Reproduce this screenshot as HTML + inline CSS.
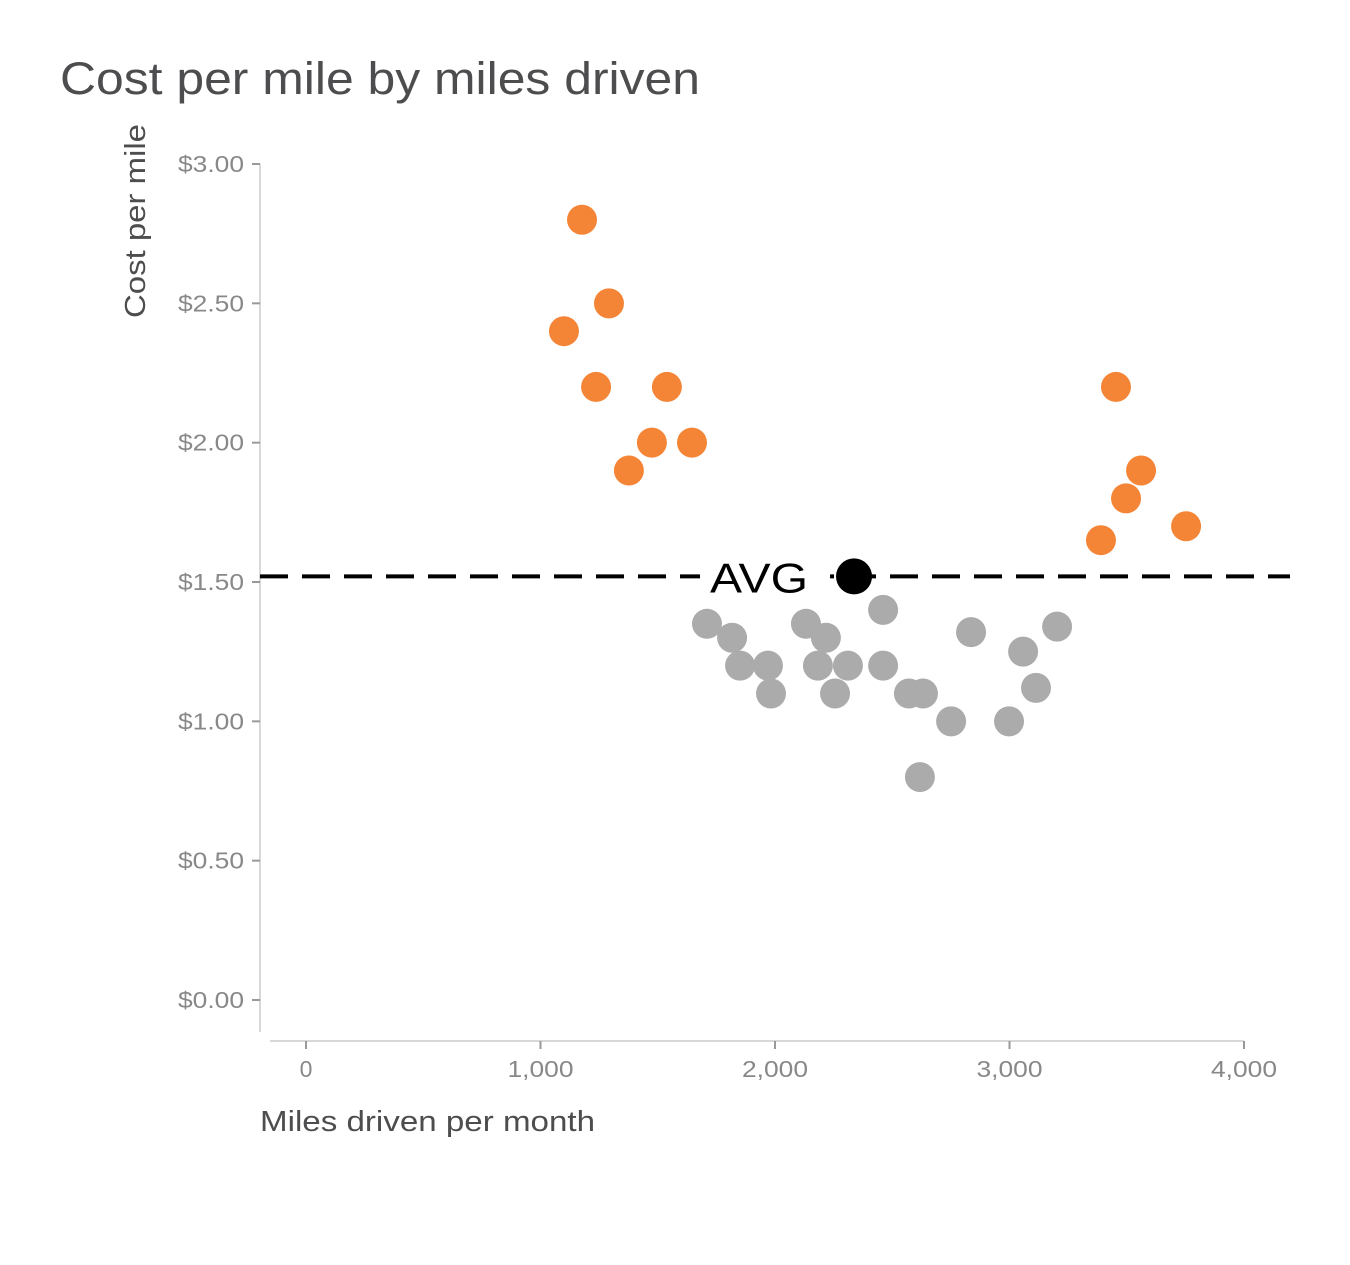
<!DOCTYPE html>
<html><head><meta charset="utf-8"><style>
body{margin:0;background:#fff;font-family:"Liberation Sans",Arial,sans-serif}
</style></head><body>
<svg id="chart" width="1350" height="1260" xmlns="http://www.w3.org/2000/svg" font-family="Liberation Sans, Arial, sans-serif">
<text x="60" y="94" font-size="45" fill="#4d4d4f" textLength="640" lengthAdjust="spacingAndGlyphs">Cost per mile by miles driven</text>
<text transform="translate(145,318) rotate(-90)" font-size="29" fill="#4d4d4f" textLength="194" lengthAdjust="spacingAndGlyphs">Cost per mile</text>
<text x="260" y="1131" font-size="29" fill="#4d4d4f" textLength="335" lengthAdjust="spacingAndGlyphs">Miles driven per month</text>
<line x1="260" y1="164" x2="260" y2="1032" stroke="#ccc" stroke-width="1.5"/>
<line x1="270" y1="1041" x2="1244" y2="1041" stroke="#ccc" stroke-width="1.5"/>
<g id="yticks"></g><g id="xticks"></g>
<g id="avgline"></g>
<g id="points"></g>
</svg>
<script>
const orangeX=[1177,1100,1292,1237,1539,1475,1646,1377,3454,3561,3497,3390,3753];
const orangeY=[2.80,2.40,2.50,2.20,2.20,2.00,2.00,1.90,2.20,1.90,1.80,1.65,1.70];
const greyX=[1710,1817,1851,1970,1983,2132,2217,2183,2311,2256,2461,2461,2571,2631,2618,2751,2836,2998,3058,3113,3203];
const greyY=[1.35,1.30,1.20,1.20,1.10,1.35,1.30,1.20,1.20,1.10,1.40,1.20,1.10,1.10,0.80,1.00,1.32,1.00,1.25,1.12,1.34];
const avgX=2337;
const avgY=1.52;
const yTicks=[0,0.5,1,1.5,2,2.5,3];
const yTickLabels=["$0.00","$0.50","$1.00","$1.50","$2.00","$2.50","$3.00"];
const xTicks=[0,1000,2000,3000,4000];
const xTickLabels=["0","1,000","2,000","3,000","4,000"];
const NS="http://www.w3.org/2000/svg";
const xs=v=>306+v*(1244-306)/4000;
const ys=v=>1000-v*(1000-164)/3;
function mk(t,a,p){const e=document.createElementNS(NS,t);for(const k in a)e.setAttribute(k,a[k]);p.appendChild(e);return e;}
const yg=document.getElementById('yticks');
yTicks.forEach((v,i)=>{
  const l=mk('line',{x1:252,x2:260,y1:ys(v),y2:ys(v),stroke:'#999','stroke-width':2},yg);
  
  
  const t=mk('text',{x:244,y:ys(v)+8,'text-anchor':'end','font-size':23,fill:'#888',textLength:66,lengthAdjust:'spacingAndGlyphs'},yg);
  t.textContent=yTickLabels[i];
  
  
});
const xg=document.getElementById('xticks');
xTicks.forEach((v,i)=>{
  const a={x:xs(v),y:1077,'text-anchor':'middle','font-size':23,fill:'#888'};
  if(xTickLabels[i].length>1){a.textLength=66;a.lengthAdjust='spacingAndGlyphs';}
  const l=mk('line',{x1:xs(v),x2:xs(v),y1:1041,y2:1049,stroke:'#999','stroke-width':2},xg);
  
  
  const t=mk('text',a,xg);
  t.textContent=xTickLabels[i];
  
  
});
const ag=document.getElementById('avgline');
const dl=mk('line',{x1:260,x2:1290,y1:ys(avgY),y2:ys(avgY),stroke:'#000','stroke-width':4,'stroke-dasharray':'28,14'},ag);


const bg=mk('rect',{x:xs(avgX)-154,y:ys(avgY)-22,width:130,height:44,fill:'#fff'},ag);


const at=mk('text',{x:xs(avgX)-144,y:ys(avgY)+16,'font-size':42,fill:'#000',textLength:98,lengthAdjust:'spacingAndGlyphs'},ag);
at.textContent='AVG';


const pg=document.getElementById('points');
greyX.forEach((x,i)=>{
  const c=mk('circle',{cx:xs(x),cy:ys(greyY[i]),r:15,fill:'#ababab'},pg);
  
  
});
orangeX.forEach((x,i)=>{
  const c=mk('circle',{cx:xs(x),cy:ys(orangeY[i]),r:15,fill:'#f58536'},pg);
  
  
});
const ac=mk('circle',{cx:xs(avgX),cy:ys(avgY),r:18,fill:'#000'},pg);


</script>
</body></html>
